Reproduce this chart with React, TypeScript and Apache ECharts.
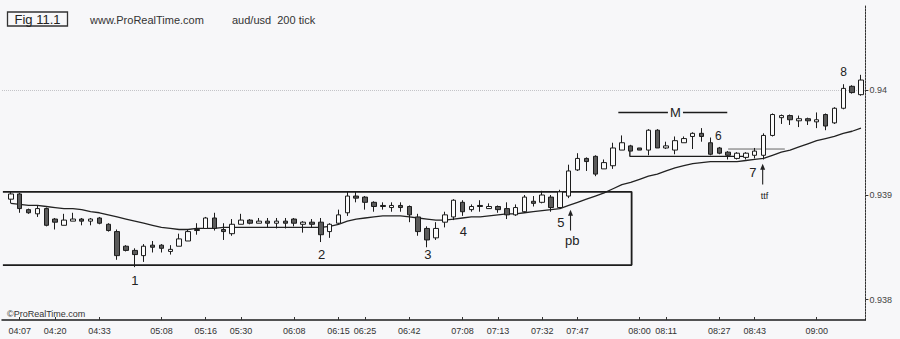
import React, { useEffect, useRef } from "react";
import * as echarts from "echarts";

// ---- candle data (aud/usd, 200 tick) ----
const opens = [
  0.93896, 0.93901, 0.93886, 0.93882, 0.93887, 0.93877, 0.93871, 0.93875, 0.93877, 0.93875,
  0.93878, 0.93872, 0.93865, 0.93851, 0.93847, 0.93842, 0.93852, 0.93852, 0.93846, 0.93851,
  0.93856, 0.93866, 0.93868, 0.93878, 0.93867, 0.93863, 0.93872, 0.93876, 0.93873, 0.93875,
  0.93873, 0.93875, 0.93877, 0.93872, 0.93874, 0.93874, 0.93865, 0.93873, 0.93883, 0.93899,
  0.93898, 0.93893, 0.9389, 0.93888, 0.9389, 0.93889, 0.93879, 0.93868, 0.93859, 0.93874,
  0.93879, 0.93893, 0.93886, 0.9389, 0.93887, 0.93889, 0.93887, 0.93881, 0.93884, 0.93894,
  0.93893, 0.93898, 0.93888, 0.93899, 0.93924, 0.93935, 0.93937, 0.93925, 0.93928, 0.93943,
  0.93947, 0.93945, 0.93943, 0.93962, 0.93945, 0.93943, 0.9395, 0.93956, 0.93959, 0.9395,
  0.93945, 0.93941, 0.93935, 0.93936, 0.93938, 0.93938, 0.93957, 0.93974, 0.93976, 0.93971,
  0.93973, 0.9397, 0.93977, 0.93969, 0.93983, 0.94004, 0.93996,
];
const closes = [
  0.93901, 0.93887, 0.93883, 0.93887, 0.93871, 0.93874, 0.93876, 0.93877, 0.93875, 0.93877,
  0.93873, 0.93866, 0.93842, 0.93847, 0.93843, 0.93851, 0.9385, 0.93849, 0.93848, 0.93858,
  0.93865, 0.93867, 0.93878, 0.93868, 0.93865, 0.93872, 0.93876, 0.93873, 0.93875, 0.93873,
  0.93875, 0.93873, 0.93873, 0.93874, 0.93872, 0.93862, 0.93872, 0.93881, 0.93899, 0.93897,
  0.93893, 0.93889, 0.93889, 0.9389, 0.93888, 0.93881, 0.93865, 0.93857, 0.93868, 0.93881,
  0.93895, 0.93884, 0.93889, 0.93889, 0.93889, 0.93886, 0.93881, 0.93888, 0.93898, 0.93892,
  0.939, 0.93888, 0.93903, 0.93923, 0.93935, 0.93932, 0.9392, 0.93931, 0.93945, 0.9395,
  0.93942, 0.93943, 0.93962, 0.93945, 0.93947, 0.93952, 0.93954, 0.93959, 0.93956, 0.93939,
  0.9394, 0.93938, 0.9394, 0.9394, 0.93942, 0.93957, 0.93977, 0.93976, 0.93972, 0.93973,
  0.93971, 0.93972, 0.93966, 0.93983, 0.94002, 0.93998, 0.9401,
];
const lows = [
  0.93892, 0.93883, 0.93882, 0.93879, 0.9387, 0.93867, 0.93871, 0.93875, 0.93871, 0.93871,
  0.93872, 0.93865, 0.93838, 0.93846, 0.93831, 0.93836, 0.93845, 0.93845, 0.93843, 0.93851,
  0.93856, 0.93862, 0.93868, 0.93866, 0.93857, 0.93861, 0.93872, 0.93872, 0.93873, 0.93869,
  0.93868, 0.93868, 0.9387, 0.93864, 0.93869, 0.93855, 0.93859, 0.93872, 0.9388, 0.93893,
  0.93886, 0.93884, 0.93886, 0.93884, 0.93884, 0.93874, 0.93861, 0.9385, 0.93857, 0.93869,
  0.93876, 0.9388, 0.93884, 0.93884, 0.93887, 0.93883, 0.93877, 0.9388, 0.93883, 0.93889,
  0.93892, 0.93884, 0.93887, 0.93897, 0.93923, 0.93923, 0.93918, 0.93925, 0.93925, 0.93943,
  0.93942, 0.93943, 0.93938, 0.93945, 0.93944, 0.93939, 0.9395, 0.93944, 0.93951, 0.93938,
  0.93939, 0.93934, 0.93934, 0.93934, 0.93935, 0.93934, 0.93956, 0.93968, 0.93967, 0.93965,
  0.93967, 0.93964, 0.93962, 0.93968, 0.93982, 0.93997, 0.93995,
];
const highs = [
  0.93903, 0.93902, 0.93887, 0.9389, 0.93888, 0.93878, 0.93882, 0.93883, 0.93878, 0.93878,
  0.93879, 0.93873, 0.93867, 0.93852, 0.93849, 0.93853, 0.93856, 0.93853, 0.93852, 0.93863,
  0.93867, 0.93873, 0.93879, 0.93883, 0.93873, 0.93877, 0.93882, 0.93877, 0.93878, 0.93878,
  0.93878, 0.93878, 0.93878, 0.93875, 0.93877, 0.93878, 0.93873, 0.93886, 0.93903, 0.93903,
  0.93899, 0.93894, 0.93893, 0.93893, 0.93893, 0.9389, 0.93882, 0.9387, 0.93874, 0.93884,
  0.93896, 0.93895, 0.93891, 0.93895, 0.93892, 0.9389, 0.93893, 0.93891, 0.939, 0.93899,
  0.93904, 0.939, 0.93905, 0.93929, 0.9394, 0.93936, 0.93938, 0.93934, 0.9395, 0.93957,
  0.93948, 0.93945, 0.93963, 0.93963, 0.93951, 0.93956, 0.93956, 0.9396, 0.93964, 0.93955,
  0.93946, 0.93942, 0.93941, 0.93941, 0.93945, 0.93959, 0.93978, 0.93977, 0.93977, 0.93976,
  0.93974, 0.93979, 0.93978, 0.93984, 0.94006, 0.94005, 0.94015,
];
// moving average line
const ma = [
  0.93892, 0.93891, 0.9389, 0.9389, 0.93889, 0.93888, 0.93887, 0.93887, 0.93886, 0.93884,
  0.93883, 0.93881, 0.93879, 0.93877, 0.93875, 0.93873, 0.93871, 0.93869, 0.93868, 0.93867,
  0.93867, 0.93868, 0.93868, 0.93868, 0.93869, 0.93869, 0.93869, 0.93869, 0.93869, 0.93869,
  0.93869, 0.93869, 0.93869, 0.93869, 0.93869, 0.93869, 0.9387, 0.93872, 0.93875, 0.93877,
  0.93878, 0.93879, 0.9388, 0.9388, 0.9388, 0.93879, 0.93878, 0.93877, 0.93876, 0.93876,
  0.93877, 0.93878, 0.93879, 0.93879, 0.9388, 0.93881, 0.93882, 0.93882, 0.93883, 0.93884,
  0.93885, 0.93886, 0.93887, 0.9389, 0.93893, 0.93896, 0.93899, 0.93902, 0.93906, 0.9391,
  0.93912, 0.93915, 0.93918, 0.9392, 0.93923, 0.93926, 0.93928, 0.9393, 0.93931, 0.93932,
  0.93932, 0.93932, 0.93932, 0.93933, 0.93934, 0.93935, 0.93938, 0.93941, 0.93943, 0.93946,
  0.93949, 0.93952, 0.93954, 0.93956, 0.93959, 0.93961, 0.93964,
];

// ---- axes ----
const tickIdx = [1, 5, 10, 17, 22, 26, 32, 37, 40, 45, 51, 55, 60, 64, 71, 74, 80, 84, 91];
const tickLabels = [
  "04:07", "04:20", "04:33", "05:08", "05:16", "05:30", "06:08", "06:15", "06:25", "06:42",
  "07:08", "07:13", "07:32", "07:47", "08:00", "08:11", "08:27", "08:43", "09:00",
];
const yTicks = [0.938, 0.939, 0.94];
const yMin = 0.937804;
const yMax = 0.940818;
const xMin = -1;
const xMax = 96.5;

// ---- drawn lines (in data units) ----
const rangeBoxX = [-0.9, 70.1, 70.1, -0.9];
const rangeBoxY = [0.93903, 0.93903, 0.93833, 0.93833];
const mBaseX = [69.9, 69.9, 83.2];
const mBaseY = [0.93945, 0.93937, 0.93937];
const pbLineX = [81.0, 87.4];
const pbLineY = [0.93944, 0.93944];
const mLeftX = [68.6, 74.2];
const mRightX = [75.9, 80.9];
const mLineY = 0.93979;
// arrows (tail -> head)
const arrow5X = [63.2, 63.2];
const arrow5Y = [0.93866, 0.93883];
const arrow7X = [84.9, 84.9];
const arrow7Y = [0.9391, 0.93927];

// ---- annotations ----
const annoText = ["1", "2", "3", "4", "5", "pb", "M", "6", "7", "ttf", "8"];
const annoX = [14.0, 35.1, 47.1, 51.1, 62.1, 63.4, 75.05, 79.9, 83.8, 85.1, 94.05];
const annoY = [
  0.93818, 0.93843, 0.93843, 0.93865, 0.93874, 0.93856, 0.93979, 0.93956, 0.93922, 0.93899,
  0.94018,
];
const annoSize = [13, 13, 13, 13, 13, 13, 13, 12, 13, 9, 12];

const FONT = "'Liberation Sans', Arial, sans-serif";
const INK = "#1c1c1c";

function seg(xs: number[], ys: number[]) {
  return xs.map((x, i) => [x, ys[i]]);
}

function arrowSeries(xs: number[], ys: number[]) {
  return {
    type: "line",
    silent: true,
    clip: false,
    z: 6,
    showSymbol: true,
    lineStyle: { color: "#222", width: 1.1 },
    itemStyle: { color: "#222" },
    data: xs.map((x, i) =>
      i === xs.length - 1
        ? { value: [x, ys[i]], symbol: "triangle", symbolSize: [5, 6] }
        : { value: [x, ys[i]], symbol: "none" }
    ),
  };
}

export default function App() {
  const ref = useRef<HTMLDivElement>(null);
  useEffect(() => {
    document.body.style.margin = "0";
    const chart = echarts.init(ref.current as HTMLDivElement, null, { renderer: "svg" });
    const lineBase = {
      type: "line",
      showSymbol: false,
      symbol: "none",
      silent: true,
      clip: false,
      z: 2,
    };
    chart.setOption({
      animation: false,
      backgroundColor: "#f7f7f9",
      textStyle: { fontFamily: FONT },
      grid: { left: 2, right: 34.6, top: 5, bottom: 19, outerBoundsMode: "none" },
      xAxis: {
        type: "value",
        min: xMin,
        max: xMax,
        axisLine: { onZero: false, lineStyle: { color: INK, width: 1.5 } },
        axisTick: { customValues: tickIdx, inside: true, length: 3, lineStyle: { color: "#333" } },
        axisLabel: {
          customValues: tickIdx,
          fontSize: 9,
          color: "#333",
          margin: 6,
          fontFamily: FONT,
          formatter: (v: number) => {
            const k = tickIdx.indexOf(Math.round(v));
            return k >= 0 ? tickLabels[k] : "";
          },
        },
        splitLine: { show: false },
      },
      yAxis: {
        type: "value",
        position: "right",
        min: yMin,
        max: yMax,
        axisLine: { show: true, onZero: false, lineStyle: { color: "#333", width: 1, type: [2, 1] } },
        axisTick: { show: true, customValues: yTicks, length: 3, lineStyle: { color: "#333" } },
        axisLabel: {
          customValues: yTicks,
          fontSize: 9,
          color: "#444",
          margin: 4,
          fontFamily: FONT,
          formatter: (v: number) => String(parseFloat(v.toFixed(3))),
        },
        splitLine: { show: false },
      },
      series: [
        {
          ...lineBase,
          name: "ma",
          data: ma.map((v, i) => [i, v]),
          lineStyle: { color: "#222", width: 1.3 },
          markLine: {
            silent: true,
            symbol: ["none", "none"],
            label: { show: false },
            lineStyle: { type: "dotted", color: "#c4c4c8", width: 1 },
            data: yTicks.map((v) => ({ yAxis: v })),
          },
        },
        { ...lineBase, data: seg(rangeBoxX, rangeBoxY), lineStyle: { color: INK, width: 1.8 } },
        { ...lineBase, data: seg(mBaseX, mBaseY), lineStyle: { color: INK, width: 1.4 } },
        { ...lineBase, data: seg(pbLineX, pbLineY), lineStyle: { color: "#666", width: 1 } },
        { ...lineBase, data: seg(mLeftX, [mLineY, mLineY]), lineStyle: { color: INK, width: 1.4 } },
        { ...lineBase, data: seg(mRightX, [mLineY, mLineY]), lineStyle: { color: INK, width: 1.4 } },
        arrowSeries(arrow5X, arrow5Y),
        arrowSeries(arrow7X, arrow7Y),
        {
          type: "candlestick",
          z: 5,
          barWidth: 5,
          data: opens.map((o, i) => [i, o, closes[i], lows[i], highs[i]]),
          encode: { x: 0, y: [1, 2, 3, 4] },
          itemStyle: {
            color: "#fbfbfb",
            color0: "#5a5a5a",
            borderColor: INK,
            borderColor0: INK,
            borderWidth: 1,
          },
        },
        {
          type: "custom",
          silent: true,
          z: 6,
          clip: false,
          data: annoText.map((t, i) => [annoX[i], annoY[i]]),
          encode: { x: 0, y: 1 },
          renderItem: (params: any, api: any) => {
            const p = api.coord([api.value(0), api.value(1)]);
            const i = params.dataIndex;
            return {
              type: "text",
              x: p[0],
              y: p[1],
              style: {
                text: annoText[i],
                fontSize: annoSize[i],
                fontFamily: FONT,
                fill: "#222",
                align: "center",
                verticalAlign: "middle",
              },
            };
          },
        },
      ],
      graphic: [
        {
          type: "rect",
          shape: { x: 7.5, y: 12, width: 60, height: 14 },
          style: { fill: "none", stroke: "#333", lineWidth: 1.3 },
        },
        {
          type: "text",
          x: 37.5,
          y: 19.5,
          style: { text: "Fig 11.1", fontSize: 13, fontFamily: FONT, fill: "#222", align: "center", verticalAlign: "middle" },
        },
        {
          type: "text",
          x: 90,
          y: 19.5,
          style: { text: "www.ProRealTime.com", fontSize: 11, fontFamily: FONT, fill: "#333", verticalAlign: "middle" },
        },
        {
          type: "text",
          x: 232,
          y: 19.5,
          style: { text: "aud/usd  200 tick", fontSize: 11, fontFamily: FONT, fill: "#333", verticalAlign: "middle" },
        },
        {
          type: "text",
          x: 7,
          y: 314,
          style: { text: "©ProRealTime.com", fontSize: 9, fontFamily: FONT, fill: "#333", verticalAlign: "middle" },
        },
      ],
    });
    return () => chart.dispose();
  }, []);
  return <div ref={ref} style={{ width: 900, height: 339, background: "#f7f7f9" }} />;
}
